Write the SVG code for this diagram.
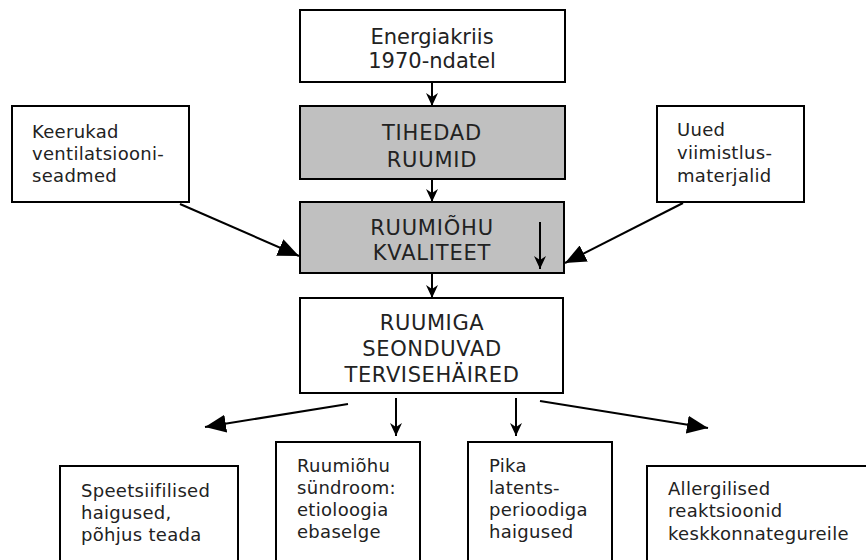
<svg xmlns="http://www.w3.org/2000/svg" width="866" height="560" viewBox="0 0 866 560">
<style>
.box{fill:#fff;stroke:#000;stroke-width:2}
.grey{fill:#c0c0c0;stroke:#000;stroke-width:2}
.big{font-family:"DejaVu Sans",Verdana,sans-serif;font-size:21px;fill:#222;text-anchor:middle}
.sm{font-family:"DejaVu Sans",Verdana,sans-serif;font-size:18px;fill:#222;letter-spacing:0.3px}
.c{stroke:#000;stroke-width:2;fill:none}
.s{marker-end:url(#ah)}
.b{marker-end:url(#abig)}
</style>
<defs>
<marker id="ah" markerUnits="userSpaceOnUse" markerWidth="14" markerHeight="14" viewBox="0 0 14 14" refX="13" refY="7" orient="auto">
<path d="M0,1 L13,7 L0,13 L4,7 z" fill="#000"/>
</marker>
<marker id="abig" markerUnits="userSpaceOnUse" markerWidth="22" markerHeight="18" viewBox="0 0 22 18" refX="21" refY="9" orient="auto">
<path d="M0,0 L21,9 L0,18 z" fill="#000"/>
</marker>
</defs>
<g id="connectors">
<line class="c s" x1="432" y1="82" x2="432" y2="106"/>
<line class="c s" x1="432" y1="179" x2="432" y2="202"/>
<line class="c s" x1="432" y1="273" x2="432" y2="298"/>
<line class="c b" x1="180" y1="204" x2="299" y2="256"/>
<line class="c b" x1="683" y1="203" x2="565" y2="263"/>
<line class="c b" x1="348" y1="404" x2="205" y2="427"/>
<line class="c s" x1="396" y1="398" x2="396" y2="436"/>
<line class="c s" x1="516" y1="398" x2="516" y2="436"/>
<line class="c b" x1="540" y1="401" x2="708" y2="428"/>
</g>
<g id="energiakriis">
<rect class="box" x="300" y="10" width="265" height="72"/>
<text class="big" x="432" y="44">Energiakriis</text>
<text class="big" x="432" y="68">1970-ndatel</text>
</g>
<g id="tihedad">
<rect class="grey" x="300" y="106" width="265" height="73"/>
<text class="big" x="432" y="140" letter-spacing="0.8">TIHEDAD</text>
<text class="big" x="432" y="167" letter-spacing="0.8">RUUMID</text>
</g>
<g id="kvaliteet">
<rect class="grey" x="300" y="202" width="264" height="71"/>
<text class="big" x="432" y="235" letter-spacing="0.8">RUUMIÕHU</text>
<text class="big" x="432" y="260" letter-spacing="0.8">KVALITEET</text>
<line class="c s" x1="540" y1="222" x2="540" y2="269" stroke-width="1.5"/>
</g>
<g id="tervisehaired">
<rect class="box" x="300" y="298" width="263" height="95"/>
<text class="big" x="432" y="330" letter-spacing="0.6">RUUMIGA</text>
<text class="big" x="432" y="356" letter-spacing="0.6">SEONDUVAD</text>
<text class="big" x="432" y="382" letter-spacing="0.6">TERVISEHÄIRED</text>
</g>
<g id="keerukad">
<rect class="box" x="12" y="106" width="177" height="96"/>
<text class="sm" x="32" y="138">Keerukad</text>
<text class="sm" x="32" y="160">ventilatsiooni-</text>
<text class="sm" x="32" y="182">seadmed</text>
</g>
<g id="uued">
<rect class="box" x="657" y="106" width="147" height="96"/>
<text class="sm" x="677" y="136">Uued</text>
<text class="sm" x="677" y="159">viimistlus-</text>
<text class="sm" x="677" y="182">materjalid</text>
</g>
<g id="speetsiifilised">
<rect class="box" x="60" y="466" width="178" height="110"/>
<text class="sm" x="81" y="497">Speetsiifilised</text>
<text class="sm" x="81" y="519">haigused,</text>
<text class="sm" x="81" y="541">põhjus teada</text>
</g>
<g id="syndroom">
<rect class="box" x="276" y="442" width="144" height="134"/>
<text class="sm" x="297" y="472">Ruumiõhu</text>
<text class="sm" x="297" y="494">sündroom:</text>
<text class="sm" x="297" y="516">etioloogia</text>
<text class="sm" x="297" y="538">ebaselge</text>
</g>
<g id="pika">
<rect class="box" x="468" y="442" width="144" height="134"/>
<text class="sm" x="489" y="472">Pika</text>
<text class="sm" x="489" y="494">latents-</text>
<text class="sm" x="489" y="516">perioodiga</text>
<text class="sm" x="489" y="538">haigused</text>
</g>
<g id="allergilised">
<rect class="box" x="647" y="466" width="240" height="110"/>
<text class="sm" x="668" y="495">Allergilised</text>
<text class="sm" x="668" y="517">reaktsioonid</text>
<text class="sm" x="668" y="540">keskkonnategureile</text>
</g>
</svg>
